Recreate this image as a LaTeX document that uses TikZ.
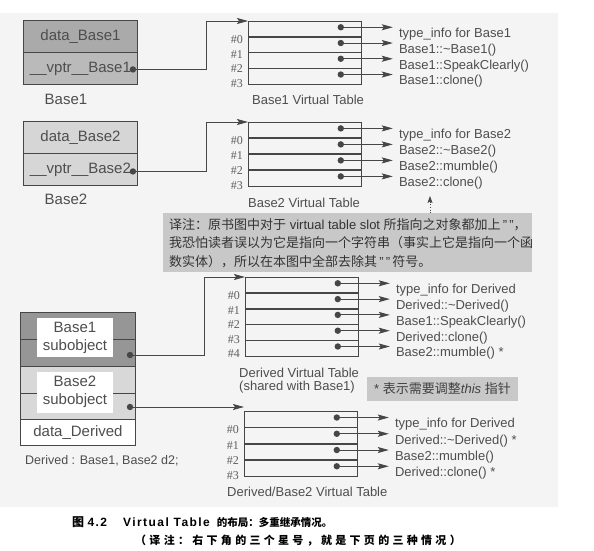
\documentclass[tikz,border=0pt]{standalone}
\usepackage{fontspec}
\setmainfont{Liberation Sans}
\newfontfamily\numfont{Liberation Serif}
\newfontfamily\cjk{Noto Sans CJK SC}
\newfontfamily\capcjk[LetterSpace=30]{Noto Sans CJK SC}
\newfontfamily\caplat[LetterSpace=12]{Liberation Sans}
\usetikzlibrary{arrows.meta,calc}

\definecolor{bgpanel}{RGB}{244,244,244}
\definecolor{inkc}{RGB}{70,70,70}
\definecolor{txtc}{RGB}{78,78,78}
\definecolor{numc}{RGB}{95,95,95}
\definecolor{gA}{RGB}{170,170,170}
\definecolor{gB}{RGB}{186,186,186}
\definecolor{gC}{RGB}{214,214,214}
\definecolor{gD}{RGB}{150,150,150}
\definecolor{gE}{RGB}{216,216,216}
\definecolor{noteg}{RGB}{200,200,200}

\tikzset{
  objpart/.style={draw=inkc, line width=0.9pt, minimum width=114pt, anchor=north west,
    inner sep=0pt, font=\fontsize{15}{17}\selectfont, text=txtc},
  vtrow/.style={draw=inkc, line width=0.8pt, minimum width=113pt, anchor=north west, inner sep=0pt},
  vtdiv/.style={draw=inkc, line width=1.4pt},
  vtxt/.style={anchor=west, inner sep=0pt, font=\fontsize{13}{15}\selectfont, text=txtc},
  numlbl/.style={anchor=east, inner sep=0pt, font=\numfont\fontsize{12}{14}\selectfont, text=numc},
  ptr/.style={draw=inkc, line width=0.9pt, -{Stealth[length=11pt,width=6pt,inset=2pt]}},
  captxt/.style={inner sep=0pt, font=\fontsize{13}{15}\selectfont, text=txtc},
  biglbl/.style={inner sep=0pt, font=\fontsize{15}{17}\selectfont, text=txtc},
  sublbl/.style={fill=white, inner sep=0pt, minimum width=76pt, align=center,
    font=\fontsize{15}{18}\selectfont, text=txtc},
}

\newcommand\drawvt[5]{%
  \foreach \vtx [count=\k from 0] in {#5} {
    \node[vtrow, minimum height={#4pt}] (#1r\k) at (#2, {#3+\k*#4}) {};
    \ifnum\k>0 \draw[vtdiv] (#1r\k.north west) -- (#1r\k.north east); \fi
    \coordinate (#1d\k) at ($(#1r\k.east)+(-21,-2)$);
    \coordinate (#1e\k) at ($(#1r\k.east)+(31,-2)$);
    \fill[inkc] (#1d\k) circle (3.2pt);
    \draw[ptr] (#1d\k) -- (#1e\k);
    \node[vtxt] (#1t\k) at ($(#1e\k)+(6,7)$) {\vtx};
    \node[numlbl] (#1n\k) at ($(#1r\k.south west)+(-5,{2-1.2*\k})$) {\#\k};
  }%
}

\begin{document}
\begin{tikzpicture}[x=1pt,y=-1pt]
\useasboundingbox (0,0) rectangle (594,551);
\fill[white] (0,0) rectangle (594,551);
\fill[bgpanel] (0,13) rectangle (558,507);

% ---------- Base1 object ----------
\node[objpart, fill=gA, minimum height=32pt] (b1a) at (23,20) {data\_Base1};
\node[objpart, fill=gB, minimum height=32pt] (b1b) at (23,52) {\_\_vptr\_\_Base1};
\coordinate (b1dot) at ($(b1b.east)+(-5,1)$);
\fill[inkc] (b1dot) circle (3.2pt);
\node[biglbl] (b1l) at (66,99) {Base1};

% ---------- Base2 object ----------
\node[objpart, fill=gC, minimum height=32pt] (b2a) at (23,121) {data\_Base2};
\node[objpart, fill=gC, minimum height=32pt] (b2b) at (23,153) {\_\_vptr\_\_Base2};
\coordinate (b2dot) at ($(b2b.east)+(-5,2)$);
\fill[inkc] (b2dot) circle (3.2pt);
\node[biglbl] (b2l) at (66,199) {Base2};

% ---------- Derived object ----------
\node[objpart, fill=gD, minimum width=115pt, minimum height=54pt] (d1) at (20,312) {};
\node[objpart, fill=gE, minimum width=115pt, minimum height=53pt] (d2) at (20,366) {};
\node[objpart, fill=white, minimum width=115pt, minimum height=26pt] (d3) at (20,419) {data\_Derived};
\draw[inkc, line width=0.9pt] (d1.west) -- (d1.east);
\draw[inkc, line width=0.9pt] (d2.west) -- (d2.east);
\node[sublbl, minimum height=39pt] (d1l) at (75,337.5) {Base1\\subobject};
\node[sublbl, minimum height=41pt] (d2l) at (75,392) {Base2\\subobject};
\coordinate (d1dot) at (130,355);
\coordinate (d2dot) at (130,407);
\fill[inkc] (d1dot) circle (3.2pt);
\fill[inkc] (d2dot) circle (3.2pt);
\node[captxt, anchor=west, font=\fontsize{12.5}{15}\selectfont] (dl) at (25,461) {Derived : Base1, Base2 d2;};

% ---------- Virtual tables ----------
\drawvt{ta}{248}{21}{15.75}{type\_info for Base1, Base1::\textasciitilde Base1(), Base1::SpeakClearly(), Base1::clone()}
\drawvt{tb}{248}{122}{16}{type\_info for Base2, Base2::\textasciitilde Base2(), Base2::mumble(), Base2::clone()}
\drawvt{tc}{245}{277}{15.8}{type\_info for Derived, Derived::\textasciitilde Derived(), Base1::SpeakClearly(), Derived::clone(), Base2::mumble() *}
\drawvt{td}{244}{411}{16.25}{type\_info for Derived, Derived::\textasciitilde Derived() *, Base2::mumble(), Derived::clone() *}

\node[captxt] (tacap) at (308,100) {Base1 Virtual Table};
\node[captxt] (tbcap) at (304,203) {Base2 Virtual Table};
\node[captxt, anchor=west] (tccap1) at (239,373) {Derived Virtual Table};
\node[captxt, anchor=west] (tccap2) at (239,387) {(shared with Base1)};
\node[captxt, anchor=west] (tdcap) at (227,492) {Derived/Base2 Virtual Table};

% ---------- vptr connectors ----------
\coordinate (ja) at (206,21);
\coordinate (jb) at (206,122);
\coordinate (jc) at (204,277);
\draw[ptr] (b1dot) -| (ja) -- (tar0.north west);
\draw[ptr] (b2dot) -| (jb) -- (tbr0.north west);
\draw[ptr] (d1dot) -| (jc) -- (tcr0.north west);
\coordinate (tdin) at ($(tdr0.north west)+(0,-4)$);
\draw[ptr] (d2dot) -- (tdin);

% ---------- translator's notes ----------
\node[fill=noteg, anchor=north west, minimum width=369pt, minimum height=59pt, inner sep=0pt] (note) at (163,213) {};
\node[anchor=west, align=left, inner sep=0pt, text=black!80, font=\fontsize{13}{18.5}\selectfont] (notetxt) at (169,243)
  {{\cjk 译注：原书图中对于} virtual table slot {\cjk 所指向之对象都加上}\,”\,”{\cjk ，}\\
   {\cjk 我恐怕读者误以为它是指向一个字符串（事实上它是指向一个函}\\
   {\cjk 数实体），所以在本图中全部去除其}\,”\,”\,{\cjk 符号。}};
\coordinate (qfrom) at ($(note.north west)+(267,0)$);
\coordinate (qto) at ($(note.north west)+(267,-17)$);
\draw[inkc, line width=0.7pt, dotted, -{Stealth[length=7pt,width=5pt,inset=1.5pt]}] (qfrom) -- (qto);

\node[fill=noteg, minimum width=151pt, minimum height=24pt, inner sep=0pt, text=black!75,
  font=\fontsize{13}{15}\selectfont] (star) at (442.5,389) {* {\cjk 表示需要调整}\textit{this} {\cjk 指针}};

% ---------- caption ----------
\node[anchor=west, inner sep=0pt, font=\fontsize{12}{14}\selectfont\bfseries] (cap1) at (72,522)
  {{\cjk\bfseries 图} {\caplat\bfseries 4.2}\hspace{16pt}{\caplat\bfseries Virtual Table}\hspace{7pt}{\cjk\fontsize{10.5}{12}\selectfont\bfseries 的布局：多重继承情况。}};
\node[anchor=west, inner sep=0pt, font=\fontsize{11}{14}\selectfont\bfseries] (cap2) at (135,541)
  {{\capcjk\bfseries （译注：右下角的三个星号，就是下页的三种情况）}};
\end{tikzpicture}
\end{document}
